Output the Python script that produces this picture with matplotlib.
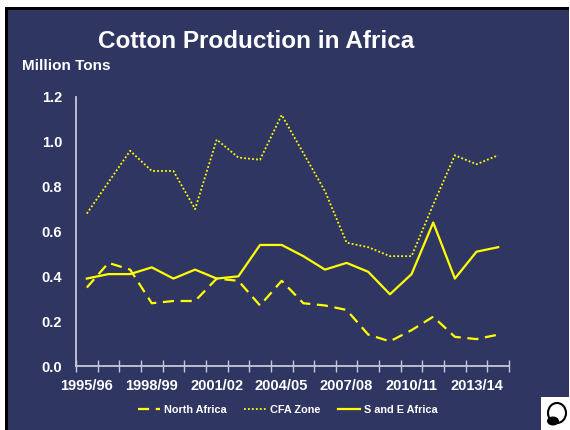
import numpy as np
import matplotlib
matplotlib.use('Agg')
from matplotlib import pyplot as plt
from matplotlib.patches import Rectangle, Ellipse

plt.rcParams['font.family'] = ['Liberation Sans', 'DejaVu Sans']
plt.rcParams['font.weight'] = 'bold'

seasons = ['1995/96', '1996/97', '1997/98', '1998/99', '1999/00', '2000/01', '2001/02',
           '2002/03', '2003/04', '2004/05', '2005/06', '2006/07', '2007/08', '2008/09',
           '2009/10', '2010/11', '2011/12', '2012/13', '2013/14', '2014/15']
north_africa = [0.35, 0.46, 0.43, 0.28, 0.29, 0.29, 0.39, 0.38, 0.27, 0.38,
                0.28, 0.27, 0.25, 0.14, 0.11, 0.16, 0.22, 0.13, 0.12, 0.14]
cfa_zone = [0.68, 0.82, 0.96, 0.87, 0.87, 0.70, 1.01, 0.93, 0.92, 1.12,
            0.95, 0.78, 0.55, 0.53, 0.49, 0.49, 0.72, 0.94, 0.90, 0.94]
s_and_e_africa = [0.39, 0.41, 0.41, 0.44, 0.39, 0.43, 0.39, 0.40, 0.54, 0.54,
                  0.49, 0.43, 0.46, 0.42, 0.32, 0.41, 0.64, 0.39, 0.51, 0.53]
label_every = 3

NAVY = '#303662'
YELLOW = '#FFFF00'
AXIS = '#C8C8D8'

fig = plt.figure(figsize=(5.7, 4.3), dpi=100, facecolor='white')
W, H = 570.0, 430.0
# slide frame
fig.patches.append(Rectangle((5 / W, 0), 564 / W, 1 - 7 / H, transform=fig.transFigure,
                             facecolor='black', edgecolor='none', zorder=-2))
fig.patches.append(Rectangle((8 / W, 0), 561 / W, 1 - 10 / H, transform=fig.transFigure,
                             facecolor=NAVY, edgecolor='none', zorder=-1))

ax = fig.add_axes([76 / W, 1 - 366 / H, 433 / W, 269 / H])
ax.set_facecolor('none')

x = np.arange(len(seasons))
ax.plot(x, north_africa, color=YELLOW, lw=1.6, dashes=(5, 3), label='North Africa')
ax.plot(x, cfa_zone, color=YELLOW, lw=1.3, dashes=(1, 1.2), label='CFA Zone')
ax.plot(x, s_and_e_africa, color=YELLOW, lw=1.6, label='S and E Africa')

ax.set_xlim(-0.5, len(seasons) - 0.5)
ax.set_ylim(0, 1.2)
ax.set_yticks(np.arange(0, 1.21, 0.2))
ax.set_yticklabels(['%.1f' % v for v in np.arange(0, 1.21, 0.2)])
ax.tick_params(axis='y', length=0, pad=10, labelsize=10.5, labelcolor='white')

ax.set_xticks(np.arange(-0.5, len(seasons), 1.0))
ax.set_xticklabels([])
ax.tick_params(axis='x', which='major', direction='inout', length=8, width=1, color=AXIS)
ax.set_xticks(x[::label_every], minor=True)
ax.set_xticklabels(seasons[::label_every], minor=True)
ax.tick_params(axis='x', which='minor', length=0, pad=9, labelsize=10.5, labelcolor='white')

for side in ['top', 'right']:
    ax.spines[side].set_visible(False)
for side in ['left', 'bottom']:
    ax.spines[side].set_color(AXIS)
    ax.spines[side].set_linewidth(1.3)

for lbl in ax.get_xticklabels(minor=True) + ax.get_yticklabels():
    lbl.set_fontweight('bold')

fig.text(256 / W, 1 - 41 / H, 'Cotton Production in Africa', color='white', fontsize=17.5,
         fontweight='bold', ha='center', va='center')
fig.text(22 / W, 1 - 66 / H, 'Million Tons', color='white', fontsize=11,
         fontweight='bold', ha='left', va='center')

leg = fig.legend(loc='center', bbox_to_anchor=(288 / W, 1 - 410 / H), ncol=3, frameon=False,
                 fontsize=7.8, handlelength=2.0, handletextpad=0.4, columnspacing=1.6)
for t in leg.get_texts():
    t.set_color('white')
    t.set_fontweight('bold')

# small cotton logo, bottom right
fig.patches.append(Rectangle((541 / W, 0), 29 / W, 33 / H, transform=fig.transFigure,
                             facecolor='white', edgecolor='none'))
fig.patches.append(Ellipse((557 / W, 17 / H), 18 / W, 20 / H, transform=fig.transFigure,
                           facecolor='white', edgecolor='black', lw=1.5))
fig.patches.append(Ellipse((553 / W, 9 / H), 12 / W, 9 / H, transform=fig.transFigure,
                           facecolor='black', edgecolor='none'))

fig.savefig('out.png', dpi=100, facecolor=fig.get_facecolor())
